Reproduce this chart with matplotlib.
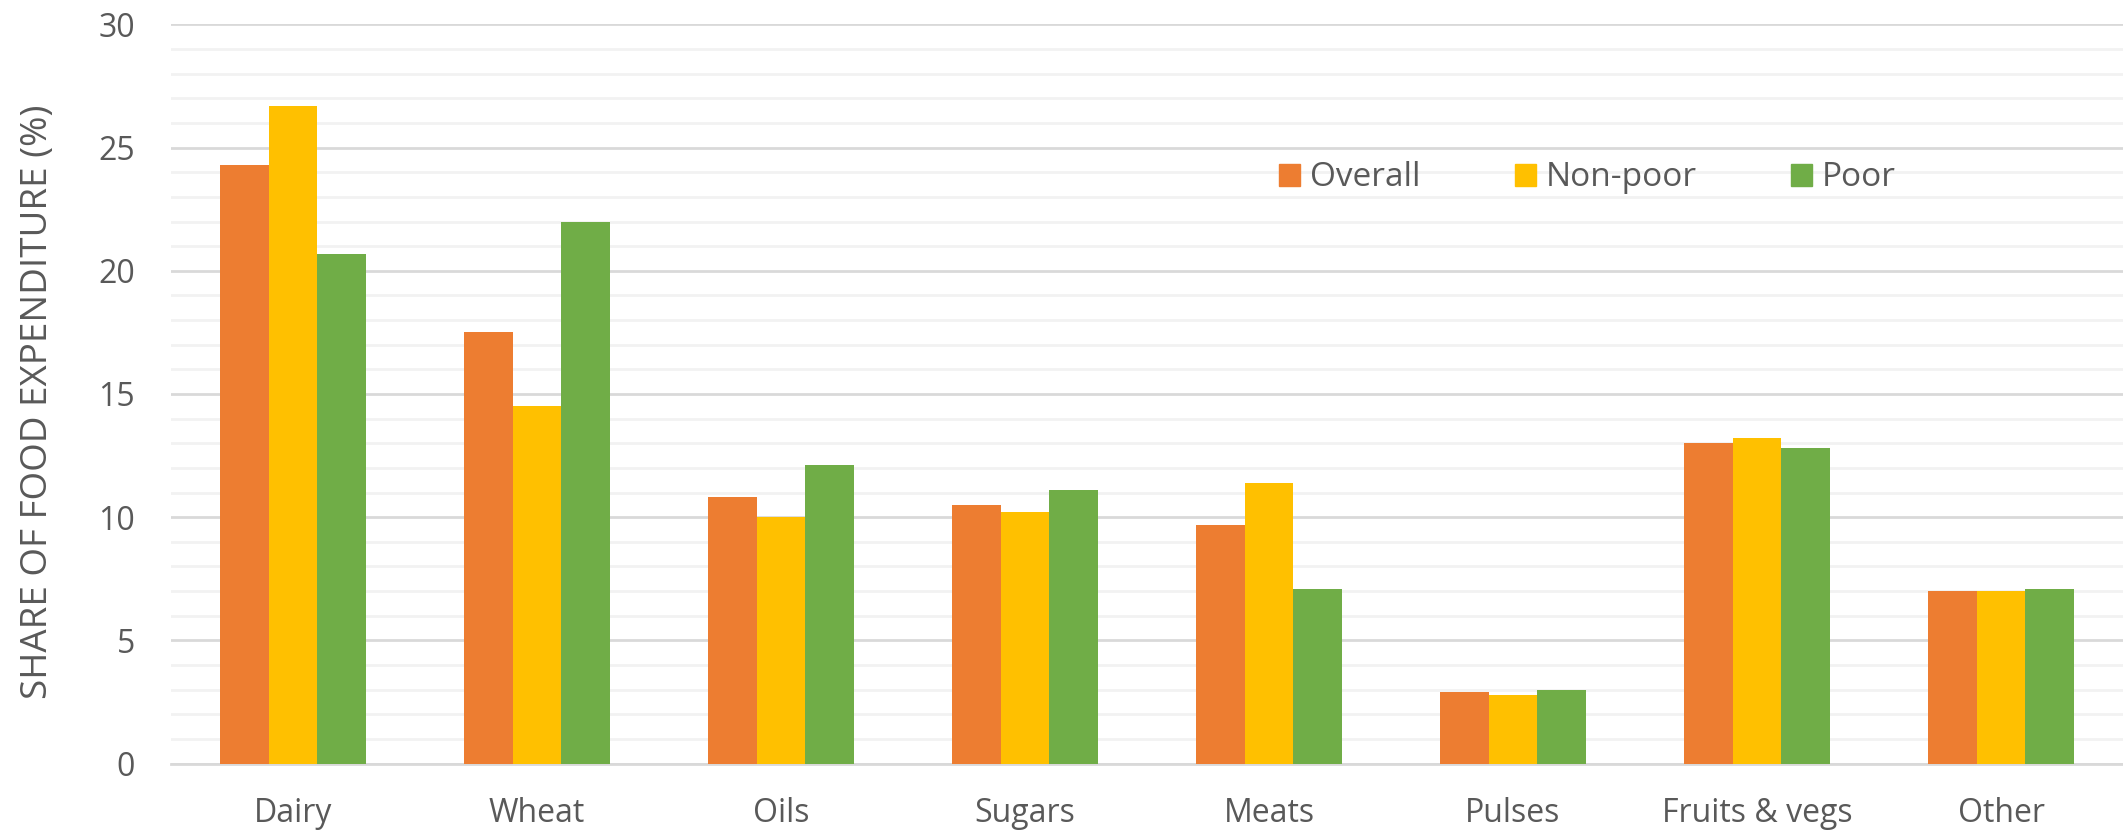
import matplotlib
matplotlib.use("Agg")
import matplotlib.pyplot as plt
import numpy as np
from matplotlib.patches import Patch

categories = ["Dairy", "Wheat", "Oils", "Sugars", "Meats", "Pulses", "Fruits & vegs", "Other"]
overall = [24.3, 17.5, 10.8, 10.5, 9.7, 2.9, 13.0, 7.0]
non_poor = [26.7, 14.5, 10.0, 10.2, 11.4, 2.8, 13.2, 7.0]
poor = [20.7, 22.0, 12.1, 11.1, 7.1, 3.0, 12.8, 7.1]
series_names = ["Overall", "Non-poor", "Poor"]
colors = ["#ED7D31", "#FFC000", "#70AD47"]
yticks = [0, 5, 10, 15, 20, 25, 30]

plt.rcParams['font.family'] = ['Open Sans', 'DejaVu Sans']
text_color = "#595959"

W, H = 2123, 832
fig = plt.figure(figsize=(W/100, H/100), dpi=100)
L, R, T, B = 171, 2123, 24.4, 763.6
ax = fig.add_axes([L/W, 1-B/H, (R-L)/W, (B-T)/H])

x = np.arange(len(categories))
bw = 0.2
for i, (vals, name, c) in enumerate(zip([overall, non_poor, poor], series_names, colors)):
    ax.bar(x + (i-1)*bw, vals, width=bw, color=c, label=name, zorder=3, linewidth=0)

ax.set_xlim(-0.5, len(categories)-0.5)
ax.set_ylim(0, 30)
ax.set_yticks(yticks)
ax.set_yticks(np.arange(0, 31, 1), minor=True)
ax.grid(axis='y', which='major', color='#d9d9d9', linewidth=2, zorder=0)
ax.grid(axis='y', which='minor', color='#f2f2f2', linewidth=2, zorder=0)
ax.set_xticks(x)
ax.set_xticklabels(categories)
for s in ['top', 'right', 'left']:
    ax.spines[s].set_visible(False)
ax.spines['bottom'].set_color('#d9d9d9')
ax.spines['bottom'].set_linewidth(2)
ax.tick_params(axis='both', which='both', length=0, labelsize=23, labelcolor=text_color)
ax.tick_params(axis='y', pad=26)
ax.tick_params(axis='x', pad=24)
ax.set_ylabel("SHARE OF FOOD EXPENDITURE (%)", fontsize=26.5, color=text_color)
ax.yaxis.set_label_coords((56-L)/(R-L), 0.49)

handles = [Patch(color=c, label=n) for c, n in zip(colors, series_names)]
leg = ax.legend(handles=handles, ncol=3, loc='center left',
                bbox_to_anchor=((1279-L)/(R-L), (B-178)/(B-T)),
                frameon=False, fontsize=24, handlelength=0.63, handleheight=0.63,
                handletextpad=0.3, columnspacing=2.82, borderpad=0, borderaxespad=0,
                labelcolor=text_color)

fig.savefig("out.png", dpi=100)
